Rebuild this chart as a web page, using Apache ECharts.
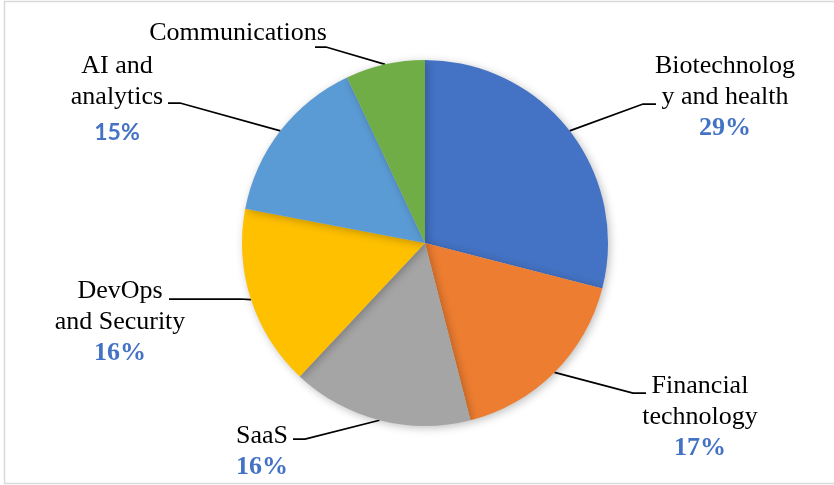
<!DOCTYPE html>
<html>
<head>
<meta charset="utf-8">
<script src="https://cdn.jsdelivr.net/npm/echarts@6/dist/echarts.min.js"></script>
<style>
  html, body { margin: 0; padding: 0; background: #fff; }
  #chart { width: 834px; height: 485px; }
</style>
</head>
<body>
<div id="chart"></div>
<script>
// Sector names (line breaks as they are set in the labels)
const categories = [
  'Biotechnolog\ny and health',
  'Financial\ntechnology',
  'SaaS',
  'DevOps\nand Security',
  'AI and\nanalytics',
  'Communications'
];
// Share of each sector, in percent
const shares = [29, 17, 16, 16, 15, 7];
// Whether the percentage is printed under the name
const showShare = [true, true, true, true, true, false];
const colors = ['#4472C4', '#ED7D31', '#A5A5A5', '#FFC000', '#5B9BD5', '#70AD47'];

// Label placement: text block centre x, block top y, leader elbow and hook
const labelPlaces = [
  { x: 725, y: 51, elbow: [643, 104], hook: [656, 104] },
  { x: 700, y: 371, elbow: [633, 393], hook: [646, 393] },
  { x: 262, y: 421, elbow: [305, 439], hook: [293, 439] },
  { x: 120, y: 276, elbow: [240, 299], hook: [169, 299] },
  { x: 117, y: 51, elbow: [180, 103], hook: [168, 103] },
  { x: 238, y: 18, elbow: [326, 47], hook: [315, 47] }
];

const chart = echarts.init(document.getElementById('chart'), null, { renderer: 'canvas' });

const data = categories.map((name, i) => ({
  name: name,
  value: shares[i],
  itemStyle: { color: colors[i] }
}));

chart.setOption({
  animation: false,
  backgroundColor: '#ffffff',
  graphic: [{
    type: 'rect',
    shape: { x: 4.5, y: 1.5, width: 900, height: 482 },
    style: { fill: 'none', stroke: '#d9d9d9', lineWidth: 1.5 },
    silent: true
  }],
  series: [{
    type: 'pie',
    center: [425, 243],
    radius: [0, 183],
    startAngle: 90,
    clockwise: true,
    avoidLabelOverlap: false,
    data: data,
    itemStyle: {
      borderWidth: 0,
      shadowBlur: 8,
      shadowOffsetX: 2,
      shadowOffsetY: 2,
      shadowColor: 'rgba(0,0,0,0.25)'
    },
    label: {
      show: true,
      position: 'outside',
      align: 'center',
      formatter: function (p) {
        const i = p.dataIndex;
        let s = p.name.split('\n').map(t => '{n|' + t + '}').join('\n');
        if (showShare[i]) {
          s += '\n{' + (i === 4 ? 'ps' : 'p') + '|' + p.value + '%}';
        }
        return s;
      },
      rich: {
        n: { fontFamily: 'Liberation Serif', fontSize: 26, color: '#000', lineHeight: 31, align: 'center' },
        p: { fontFamily: 'Liberation Serif', fontSize: 26, fontWeight: 'bold', color: '#4472C4', lineHeight: 31, align: 'center' },
        ps: { fontFamily: 'Lato', fontSize: 23, fontWeight: 'bold', color: '#4472C4', lineHeight: 40, align: 'center' }
      }
    },
    labelLine: {
      show: true,
      length: 10,
      length2: 10,
      lineStyle: { color: '#000', width: 1.75 }
    },
    labelLayout: function (params) {
      const place = labelPlaces[params.dataIndex];
      const pts = params.labelLinePoints;
      const start = pts && pts.length ? pts[0] : place.elbow;
      return {
        x: place.x,
        y: place.y,
        align: 'center',
        verticalAlign: 'top',
        labelLinePoints: [start, place.elbow, place.hook]
      };
    }
  }]
});
</script>
</body>
</html>
